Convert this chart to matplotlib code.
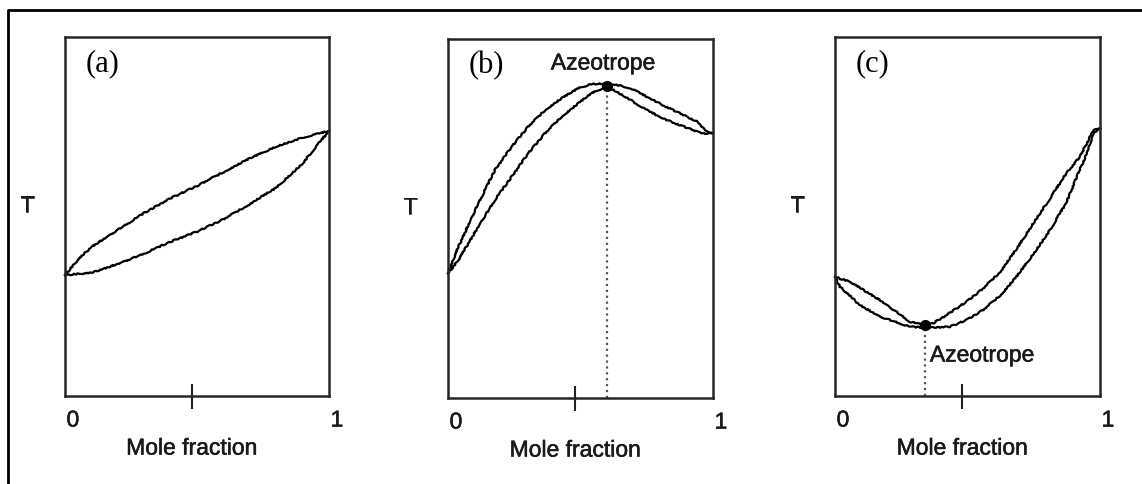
import matplotlib
matplotlib.use('Agg')
import matplotlib.pyplot as plt
import matplotlib.patheffects as pe
from matplotlib.lines import Line2D


# curve data, x = mole fraction, T scaled 0..1
a_x_vap = [0, 0.05, 0.1, 0.2, 0.3, 0.4, 0.5, 0.6, 0.7, 0.8, 0.9, 1.0]
a_T_vap = [0.337, 0.38, 0.415, 0.463, 0.51, 0.551, 0.585, 0.624, 0.662, 0.695, 0.72, 0.738]
a_x_liq = [0, 0.1, 0.2, 0.3, 0.4, 0.5, 0.6, 0.7, 0.8, 0.9, 0.95, 1.0]
a_T_liq = [0.337, 0.343, 0.368, 0.397, 0.43, 0.458, 0.492, 0.535, 0.58, 0.648, 0.694, 0.738]

b_x_vap = [0, 0.039, 0.114, 0.177, 0.24, 0.303, 0.366, 0.429, 0.492, 0.542, 0.592, 0.625, 0.69, 0.75, 0.81, 0.875, 0.94, 0.97, 1.0]
b_T_vap = [0.347, 0.421, 0.542, 0.635, 0.7, 0.756, 0.802, 0.835, 0.863, 0.875, 0.876, 0.874, 0.863, 0.839, 0.816, 0.793, 0.77, 0.747, 0.737]
b_x_liq = [0, 0.039, 0.114, 0.177, 0.24, 0.303, 0.366, 0.429, 0.492, 0.542, 0.592, 0.625, 0.69, 0.75, 0.81, 0.875, 0.94, 0.97, 1.0]
b_T_liq = [0.347, 0.384, 0.477, 0.552, 0.616, 0.682, 0.737, 0.784, 0.821, 0.849, 0.866, 0.858, 0.83, 0.802, 0.779, 0.76, 0.742, 0.737, 0.737]

c_x_vap = [0, 0.057, 0.17, 0.283, 0.333, 0.371, 0.42, 0.497, 0.56, 0.623, 0.686, 0.748, 0.811, 0.874, 0.925, 0.975, 1.0]
c_T_vap = [0.332, 0.318, 0.267, 0.207, 0.198, 0.203, 0.225, 0.263, 0.3, 0.346, 0.41, 0.481, 0.55, 0.621, 0.667, 0.741, 0.746]
c_x_liq = [0, 0.019, 0.094, 0.17, 0.283, 0.346, 0.434, 0.5, 0.56, 0.623, 0.686, 0.748, 0.811, 0.874, 0.912, 0.95, 0.975, 1.0]
c_T_liq = [0.332, 0.304, 0.253, 0.221, 0.193, 0.19, 0.193, 0.213, 0.24, 0.28, 0.333, 0.395, 0.462, 0.54, 0.61, 0.675, 0.733, 0.746]

# azeotrope points (x, T) for panels b and c
azeo_b = (0.6, 0.869)
azeo_c = (0.34, 0.198)

panel_labels = ['(a)', '(b)', '(c)']
tick_pos = 0.48

sans = 'Liberation Sans'
serif = 'Liberation Serif'
txt_color = '#1a1a1a'
# slight stroke so the labels look as heavy as the scanned ones
thick = [pe.withStroke(linewidth=0.4, foreground=txt_color)]


fig = plt.figure(figsize=(11.42, 4.84), dpi=100)

# axes boxes (left, bottom, width, height) in figure fraction
boxes = [
    [0.0569, 0.1818, 0.2312, 0.7417],
    [0.3923, 0.1777, 0.2320, 0.7417],
    [0.7312, 0.1818, 0.2320, 0.7417],
]

curves = [
    (a_x_vap, a_T_vap, a_x_liq, a_T_liq),
    (b_x_vap, b_T_vap, b_x_liq, b_T_liq),
    (c_x_vap, c_T_vap, c_x_liq, c_T_liq),
]

axes = []
for i, box in enumerate(boxes):
    ax = fig.add_axes(box)
    xv, Tv, xl, Tl = curves[i]
    for xs, ys in [(xv, Tv), (xl, Tl)]:
        ln, = ax.plot(xs, ys, color='black', lw=1.6, clip_on=False)
        ln.set_sketch_params(scale=0.6, length=6, randomness=12)

    ax.set_xlim(0, 1)
    ax.set_ylim(0, 1)
    ax.set_xticks([tick_pos])
    ax.set_xticklabels([])
    ax.set_yticks([])
    ax.tick_params(axis='x', direction='inout', length=18, width=1.5, color='#222222')
    for s in ax.spines.values():
        s.set_linewidth(1.8)
        s.set_color('#262626')

    # labels
    ax.text(-0.143, 0.532, 'T', transform=ax.transAxes, ha='center', va='center',
            fontsize=16.5, family=sans, color=txt_color, path_effects=thick)
    ax.text(0.03, -0.067, '0', transform=ax.transAxes, ha='center', va='center',
            fontsize=16.5, family=sans, color=txt_color, path_effects=thick)
    ax.text(1.03, -0.067, '1', transform=ax.transAxes, ha='center', va='center',
            fontsize=16.5, family=sans, color=txt_color, path_effects=thick)
    ax.text(0.48, -0.145, 'Mole fraction', transform=ax.transAxes, ha='center', va='center',
            fontsize=16.5, family=sans, color=txt_color, path_effects=thick)
    ax.text(0.143, 0.926, panel_labels[i], transform=ax.transAxes, ha='center', va='center',
            fontsize=22, family=serif, color='black')
    axes.append(ax)

# panel b: maximum boiling azeotrope
ax = axes[1]
ax.plot([azeo_b[0], azeo_b[0]], [0, azeo_b[1]], color='#555555', lw=1.6, ls=':')
ax.plot(azeo_b[0], azeo_b[1], 'o', color='black', ms=7)
ax.text(0.585, 0.933, 'Azeotrope', ha='center', va='center', fontsize=16.5,
        family=sans, color=txt_color, path_effects=thick)

# panel c: minimum boiling azeotrope
ax = axes[2]
ax.plot([azeo_c[0], azeo_c[0]], [0, azeo_c[1]], color='#555555', lw=1.6, ls=':')
ax.plot(azeo_c[0], azeo_c[1], 'o', color='black', ms=7)
ax.text(0.358, 0.114, 'Azeotrope', ha='left', va='center', fontsize=16.5,
        family=sans, color=txt_color, path_effects=thick)

# outer frame (only top and left edges show in the picture)
fx = 7.5 / 1142
fy = 1 - 9.5 / 484
fig.add_artist(Line2D([fx, fx, 1.0], [0.0, fy, fy], transform=fig.transFigure,
                      color='black', lw=2.0))

fig.savefig('out.png', dpi=100)
